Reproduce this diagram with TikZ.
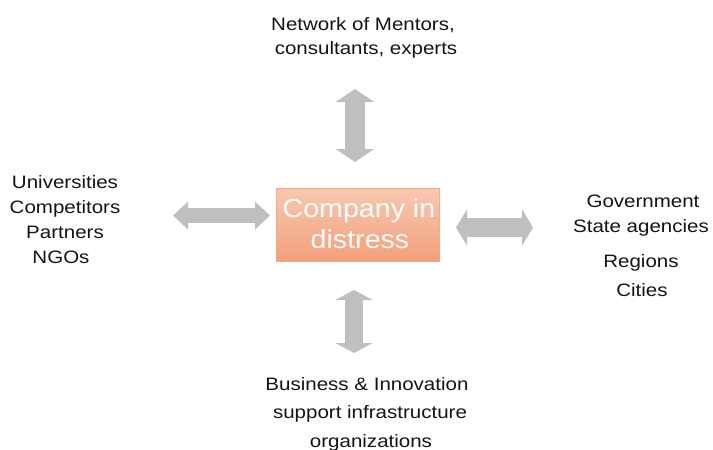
\documentclass[tikz,border=0pt]{standalone}
\usepackage{fontspec}
\setmainfont{Liberation Sans}
\usetikzlibrary{arrows.meta}
\definecolor{arrowgray}{RGB}{191,191,191}
\definecolor{boxtop}{RGB}{248,200,176}
\definecolor{boxbot}{RGB}{242,160,122}
\definecolor{boxline}{RGB}{244,170,130}
\definecolor{txt}{RGB}{20,20,20}
\tikzset{
  lbl/.style={anchor=base, inner sep=0pt, font=\fontsize{18}{25}\selectfont, text=txt, xscale=1.14, transform shape},
  ctr/.style={anchor=base, inner sep=0pt, font=\fontsize{26}{31}\selectfont, text=white, xscale=1.1, transform shape},
  dbl/.style={draw=arrowgray, line width=#1},
}
\begin{document}
\begin{tikzpicture}[x=1pt,y=-1pt]
\useasboundingbox (0,0) rectangle (713,450);
% central box
\node[draw=boxline, line width=0.8pt, top color=boxtop, bottom color=boxbot,
      minimum width=163pt, minimum height=73pt, inner sep=0pt] (box) at (358,225) {};
\node[ctr] (c1) at (359,217) {Company in};
\node[ctr] (c2) at (360,248) {distress};
% top text
\node[lbl] (t1) at (363,30) {Network of Mentors,};
\node[lbl] (t2) at (366,54) {consultants, experts};
% left text
\node[lbl] (l1) at (65,188) {Universities};
\node[lbl] (l2) at (65,213) {Competitors};
\node[lbl] (l3) at (65,238) {Partners};
\node[lbl] (l4) at (61,263) {NGOs};
% right text
\node[lbl] (r1) at (643,207) {Government};
\node[lbl] (r2) at (641,232) {State agencies};
\node[lbl] (r3) at (641,267) {Regions};
\node[lbl] (r4) at (642,296) {Cities};
% bottom text
\node[lbl] (b1) at (367,390) {Business \& Innovation};
\node[lbl] (b2) at (370,418) {support infrastructure};
\node[lbl] (b3) at (371,447) {organizations};
% arrow ends
\coordinate (ta) at (355,89);
\coordinate (tb) at (355,162);
\coordinate (la) at (173,215.5);
\coordinate (lb) at (270,215.5);
\coordinate (ra) at (456,227.5);
\coordinate (rb) at (533,227.5);
\coordinate (ba) at (354,290);
\coordinate (bb) at (354,353);
\draw[dbl=20pt, {Triangle[width=38pt,length=13pt]}-{Triangle[width=38pt,length=13pt]}] (ta) -- (tb);
\draw[dbl=15pt, {Triangle[width=27pt,length=15pt]}-{Triangle[width=27pt,length=15pt]}] (la) -- (lb);
\draw[dbl=19pt, {Triangle[width=36pt,length=11pt]}-{Triangle[width=36pt,length=11pt]}] (ra) -- (rb);
\draw[dbl=18pt, {Triangle[width=37pt,length=10pt]}-{Triangle[width=37pt,length=10pt]}] (ba) -- (bb);
\end{tikzpicture}
\end{document}
